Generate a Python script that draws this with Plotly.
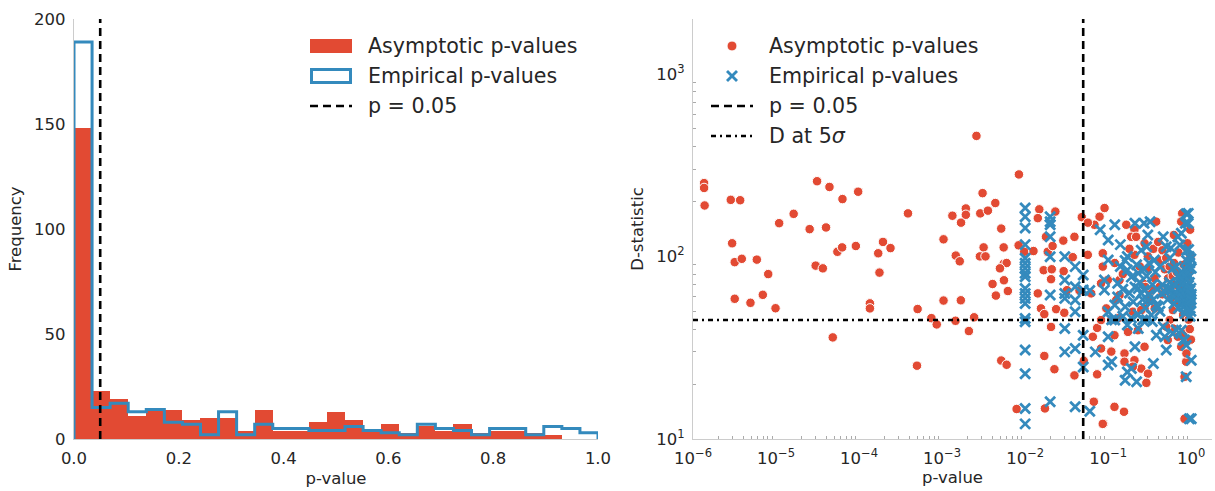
import numpy as np
import plotly.graph_objects as go

RED = "#E24A33"
BLUE = "#348ABD"
INK = "#262626"
SPINE = "#CCCCCC"
FONT = "DejaVu Sans"

# Histogram counts over 29 equal-width bins spanning [0, 1]
asymptotic_counts = [148, 23, 19, 11, 15, 14, 9, 10, 10, 4, 14, 4, 4, 8, 13,
                     9, 4, 7, 3, 6, 4, 7, 3, 4, 4, 3, 2, 0, 0]
empirical_counts = [189, 15, 17, 13, 14, 8, 7, 2, 13, 2, 7, 5, 5, 4, 4,
                    6, 4, 3, 2, 7, 5, 4, 2, 5, 5, 2, 6, 5, 3]

p_threshold = 0.05
d_at_5sigma = 44.8

# (p-value, D-statistic) pairs, asymptotic p-values
asymptotic_points = [
    (1.36e-6, 252), (1.36e-6, 237), (1.38e-6, 190), (2.85e-6, 204), (3.70e-6, 203),
    (2.96e-6, 118), (3.18e-6, 93), (3.87e-6, 97), (5.87e-6, 96), (8.05e-6, 80),
    (3.18e-6, 58.6), (4.92e-6, 55.7), (6.93e-6, 61.6), (9.86e-6, 52), (1.09e-5, 152),
    (1.63e-5, 171), (2.54e-5, 141), (3.12e-5, 258), (4.00e-5, 144), (4.40e-5, 240),
    (6.31e-5, 206), (3.00e-5, 89), (3.66e-5, 86), (5.48e-5, 106), (6.25e-5, 112),
    (4.82e-5, 36), (9.14e-5, 114), (9.75e-5, 226),
    (3.88e-4, 172), (1.94e-4, 120), (1.70e-4, 104), (2.39e-4, 111), (1.76e-4, 81.5),
    (1.35e-4, 55.3), (1.35e-4, 51.9), (5.07e-4, 51.5), (4.98e-4, 25.2), (2.59e-3, 457),
    (1.04e-3, 124), (1.33e-3, 167), (1.69e-3, 153), (1.93e-3, 183), (1.93e-3, 169),
    (1.46e-3, 101), (1.63e-3, 94), (1.04e-3, 57.3), (1.68e-3, 57.5), (7.43e-4, 45.9),
    (8.61e-4, 42.4), (1.45e-3, 44.4), (2.10e-3, 39), (2.43e-3, 46.4), (3.07e-3, 222),
    (2.88e-3, 172), (3.56e-3, 178), (4.37e-3, 196), (5.15e-3, 142), (3.16e-3, 112),
    (2.85e-3, 100), (3.33e-3, 100), (5.51e-3, 112), (5.51e-3, 91), (5.98e-3, 92),
    (4.97e-3, 86), (5.55e-3, 74), (4.05e-3, 70.6), (4.44e-3, 61), (6.19e-3, 64.6),
    (8.41e-3, 281), (8.34e-3, 115), (5.15e-3, 26.9), (5.98e-3, 25.5), (7.89e-3, 14.6),
    (0.0148, 181), (0.0142, 162), (0.0231, 176), (9.75e-3, 106), (0.0126, 107),
    (0.0187, 106), (0.0178, 128), (0.0214, 114), (0.0288, 122), (0.0392, 128),
    (0.0481, 164), (0.0167, 84), (0.0209, 85), (0.0205, 75), (0.0291, 83),
    (0.0374, 99), (0.0142, 62.7), (0.0319, 65.3), (0.0451, 65), (0.0568, 102),
    (0.0155, 51.9), (0.017, 48.3), (0.0236, 51.4), (0.0296, 49.1), (0.0205, 41.1),
    (0.017, 28.5), (0.0225, 24.1), (0.0392, 22.3), (0.0508, 26.8), (0.0736, 22.6),
    (0.0173, 14.7), (0.0671, 16), (0.0879, 12.1),
    (0.0904, 184), (0.0787, 165), (0.0684, 149), (0.0569, 153), (0.0736, 40.6),
    (0.0653, 36.3), (0.0624, 62.7),
    (0.165, 149), (0.207, 140), (0.189, 128), (0.217, 128), (0.378, 155), (0.618, 131),
    (0.778, 172), (0.757, 155), (0.830, 113), (0.869, 86.1), (0.274, 118), (0.262, 71.2),
    (0.361, 75.9), (0.207, 102), (0.099, 74.3), (0.086, 104), (0.086, 87.9), (0.082, 71.2),
    (0.137, 61.4), (0.315, 57.7), (0.274, 51.9), (0.601, 50.8), (0.198, 49.8), (0.109, 44.8),
    (0.082, 44.8), (0.228, 39.4), (0.119, 37), (0.522, 34.8), (0.690, 36.3), (0.757, 32),
    (0.082, 31.3), (0.109, 30.1), (0.157, 29.4), (0.274, 32), (0.207, 27), (0.250, 24.3),
    (0.301, 22.8), (0.288, 20.3), (0.198, 24.9), (0.869, 26.5), (0.830, 21.9), (0.119, 15),
    (0.155, 14.1), (0.086, 12.1), (0.830, 12.9),
    (0.137, 74.2), (0.301, 86), (0.417, 68.2), (0.526, 75.8), (0.694, 55.3), (0.798, 47.7),
    (0.125, 57.7), (0.25, 50.8), (0.363, 51.9), (0.55, 44.8), (0.604, 40.3), (0.50, 41.2),
    (0.80, 37.8), (0.875, 29.4), (0.095, 51.9), (0.131, 45.8), (0.173, 38.6), (0.157, 26.5),
    (0.42, 95), (0.45, 62), (0.48, 85), (0.52, 66), (0.55, 88), (0.57, 59), (0.6, 78),
    (0.62, 92), (0.64, 63), (0.65, 70), (0.67, 82), (0.7, 105), (0.72, 60), (0.74, 72),
    (0.78, 66), (0.81, 90), (0.84, 58), (0.86, 75), (0.88, 58), (0.9, 118), (0.91, 68),
    (0.93, 45), (0.94, 82), (0.95, 64), (0.96, 40), (0.97, 140), (0.98, 100), (0.99, 35),
    (0.99, 55), (0.3, 100), (0.33, 65), (0.35, 110), (0.4, 120), (0.45, 108), (0.5, 98),
    (0.12, 92), (0.15, 80), (0.18, 110), (0.24, 88), (0.28, 68),
]

# (p-value, D-statistic) pairs, empirical p-values
empirical_points = [
    (0.01, 184), (0.01, 165), (0.01, 143), (0.01, 116), (0.01, 97.7), (0.01, 91.7),
    (0.01, 86), (0.01, 80.8), (0.01, 77.4), (0.01, 66.8), (0.01, 62.7), (0.01, 58.9),
    (0.01, 55.2), (0.01, 45.7), (0.01, 43.8), (0.01, 30.7), (0.01, 22.8), (0.01, 14.7),
    (0.01, 12.1),
    (0.02, 165), (0.02, 155), (0.02, 149), (0.02, 128), (0.02, 99.5), (0.02, 61.4), (0.02, 16),
    (0.03, 99.7), (0.03, 74.2), (0.03, 62.7), (0.03, 58.9), (0.03, 40.3), (0.03, 30),
    (0.04, 87.9), (0.04, 68.2), (0.04, 57.7), (0.04, 49.8), (0.04, 31.3), (0.04, 15),
    (0.05, 79), (0.05, 65.4), (0.05, 37), (0.05, 24.8),
    (0.06, 14.2), (0.06, 65), (0.07, 30), (0.08, 140), (0.09, 74.2),
    (0.87, 171), (0.85, 152), (0.93, 109), (1.0, 86.1), (0.76, 134), (0.46, 128),
    (0.50, 113), (0.32, 155), (0.30, 131), (0.21, 152), (0.12, 149), (0.10, 123),
    (0.14, 116), (0.17, 99.8), (0.25, 108), (0.36, 95.5), (0.55, 97.7), (0.57, 111),
    (0.38, 37), (0.48, 36.3), (0.60, 37.8), (0.76, 39.4), (0.83, 34.8), (0.87, 32.6),
    (0.50, 30.7), (0.21, 32), (0.35, 25.9), (0.11, 26.5), (0.17, 23.3), (0.16, 21),
    (0.87, 21.9), (1.0, 27), (0.95, 12.9), (0.12, 54.1), (0.16, 53), (0.20, 56.5),
    (0.30, 57.7), (0.26, 44.8), (0.33, 47.7), (0.27, 65.4), (0.23, 80.8), (0.17, 84.3),
    (0.13, 71.2), (0.09, 65.4), (0.10, 49.8), (0.12, 44.8), (0.17, 42.1),
    (0.10, 95.6), (0.10, 36.3), (0.10, 25.4), (0.19, 24.3), (0.22, 20.6), (0.23, 40.3),
    (0.23, 66.8), (0.25, 62.7), (0.27, 152), (0.29, 113), (0.40, 53), (0.44, 62.7),
    (0.46, 41.2), (0.53, 66.8), (0.60, 86), (0.63, 60.1), (0.66, 39.5), (0.69, 128),
    (0.73, 115.5), (0.73, 75.8), (0.76, 65.4), (0.80, 80.8), (0.80, 34.8), (0.84, 48.7),
    (0.88, 108), (0.92, 172), (0.92, 152), (0.96, 86), (1.0, 12.9),
    (0.45, 70), (0.48, 64), (0.52, 58), (0.55, 72), (0.58, 66), (0.6, 61), (0.62, 55),
    (0.64, 69), (0.66, 63), (0.68, 58), (0.7, 52), (0.71, 67), (0.73, 61), (0.75, 56),
    (0.77, 71), (0.78, 64), (0.8, 59), (0.81, 53), (0.83, 68), (0.84, 62), (0.85, 57),
    (0.86, 51), (0.87, 74), (0.88, 66), (0.89, 60), (0.9, 55), (0.91, 69), (0.92, 63),
    (0.93, 58), (0.94, 52), (0.95, 72), (0.96, 65), (0.97, 60), (0.98, 56), (0.99, 67),
    (1.0, 62), (1.0, 58), (0.99, 50), (0.97, 47), (0.93, 77), (0.9, 80), (0.86, 84),
    (0.82, 78), (0.76, 82), (0.7, 78), (0.66, 88), (0.96, 92), (0.99, 97), (0.94, 100),
    (0.88, 95),
    (0.14, 88), (0.16, 95), (0.19, 77), (0.22, 90), (0.24, 72), (0.27, 85), (0.29, 78),
    (0.31, 92), (0.34, 70), (0.37, 82), (0.39, 66), (0.42, 88), (0.13, 60), (0.15, 66),
    (0.18, 63), (0.21, 68), (0.26, 58), (0.28, 52), (0.31, 62), (0.35, 58), (0.38, 54),
    (0.42, 50), (0.11, 45), (0.15, 47), (0.19, 46), (0.23, 48), (0.29, 45), (0.34, 44),
]

hist_xticks = [0.0, 0.2, 0.4, 0.6, 0.8, 1.0]
hist_yticks = [0, 50, 100, 150, 200]
log_xticks = [1e-6, 1e-5, 1e-4, 1e-3, 1e-2, 1e-1, 1]
log_yticks = [10, 100, 1000]

W, H = 1215, 491
M_T, M_B = 19, 52
PLOT_H = H - M_T - M_B


def px_x(px):
    return px / W


def px_y(py):
    return (H - M_B - py) / PLOT_H


def sup_label(v):
    e = int(round(np.log10(v)))
    s = str(abs(e))
    return "10<sup>" + ("\u2212" if e < 0 else "") + s + "</sup>"


fig = go.Figure()

# ---- left panel: histogram ----
edges = np.linspace(0.0, 1.0, len(asymptotic_counts) + 1)
centers = 0.5 * (edges[:-1] + edges[1:])
bin_w = edges[1] - edges[0]

fig.add_trace(go.Bar(
    x=centers, y=asymptotic_counts, width=bin_w,
    marker=dict(color=RED, line=dict(width=0)),
    xaxis="x", yaxis="y", showlegend=False, name="Asymptotic p-values",
))

step_x = [0.0] + list(edges[:-1]) + [1.0, 1.0]
step_y = [0] + list(empirical_counts) + [empirical_counts[-1], 0]
fig.add_trace(go.Scatter(
    x=step_x, y=step_y, mode="lines",
    line=dict(color=BLUE, width=3, shape="hv"),
    xaxis="x", yaxis="y", showlegend=False, name="Empirical p-values",
))

# ---- right panel: D-statistic vs p-value ----
a_p, a_d = zip(*asymptotic_points)
e_p, e_d = zip(*empirical_points)

fig.add_trace(go.Scatter(
    x=a_p, y=a_d, mode="markers",
    marker=dict(symbol="circle", size=9.5, color=RED, line=dict(color="white", width=1)),
    xaxis="x2", yaxis="y2", showlegend=False, name="Asymptotic p-values",
))
fig.add_trace(go.Scatter(
    x=e_p, y=e_d, mode="markers",
    marker=dict(symbol="x-thin", size=10, color=BLUE, line=dict(color=BLUE, width=2.8)),
    xaxis="x2", yaxis="y2", showlegend=False, name="Empirical p-values",
))

DASH = "8px,5px"
DASHDOT = "5px,4px,2px,4px"

shapes = [
    dict(type="line", xref="x", yref="y domain", x0=p_threshold, x1=p_threshold, y0=0, y1=1,
         line=dict(color="black", width=2.6, dash=DASH)),
    dict(type="line", xref="x2", yref="y2 domain", x0=p_threshold, x1=p_threshold, y0=0, y1=1,
         line=dict(color="black", width=2.6, dash=DASH)),
    dict(type="line", xref="x2 domain", yref="y2", x0=0, x1=1, y0=d_at_5sigma, y1=d_at_5sigma,
         line=dict(color="black", width=2.6, dash=DASHDOT)),
]

# ---- legends ----
text_font = dict(family=FONT, size=20.6, color=INK)
annotations = []


def legend_text(px, py, text):
    annotations.append(dict(
        xref="paper", yref="paper", x=px_x(px), y=px_y(py), text=text,
        showarrow=False, xanchor="left", yanchor="middle", font=text_font,
    ))


# left legend
shapes += [
    dict(type="rect", xref="paper", yref="paper", x0=px_x(310), x1=px_x(352),
         y0=px_y(53), y1=px_y(39), fillcolor=RED, line=dict(width=0)),
    dict(type="rect", xref="paper", yref="paper", x0=px_x(311.5), x1=px_x(350.5),
         y0=px_y(82.5), y1=px_y(69.5), fillcolor="white", line=dict(color=BLUE, width=3)),
    dict(type="line", xref="paper", yref="paper", x0=px_x(310), x1=px_x(352),
         y0=px_y(106), y1=px_y(106), line=dict(color="black", width=2.6, dash=DASH)),
]
legend_text(366, 46, "Asymptotic p-values")
legend_text(366, 76, "Empirical p-values")
legend_text(366, 106, "p = 0.05")

# right legend
cx, r = 732, 5
xa = 5
shapes += [
    dict(type="circle", xref="paper", yref="paper", x0=px_x(cx - r), x1=px_x(cx + r),
         y0=px_y(46 + r), y1=px_y(46 - r), fillcolor=RED, line=dict(color="white", width=1)),
    dict(type="line", xref="paper", yref="paper", x0=px_x(cx - xa), x1=px_x(cx + xa),
         y0=px_y(76 - xa), y1=px_y(76 + xa), line=dict(color=BLUE, width=2.8)),
    dict(type="line", xref="paper", yref="paper", x0=px_x(cx - xa), x1=px_x(cx + xa),
         y0=px_y(76 + xa), y1=px_y(76 - xa), line=dict(color=BLUE, width=2.8)),
    dict(type="line", xref="paper", yref="paper", x0=px_x(711), x1=px_x(753),
         y0=px_y(106), y1=px_y(106), line=dict(color="black", width=2.6, dash=DASH)),
    dict(type="line", xref="paper", yref="paper", x0=px_x(711), x1=px_x(753),
         y0=px_y(136), y1=px_y(136), line=dict(color="black", width=2.6, dash=DASHDOT)),
]
legend_text(767, 46, "Asymptotic p-values")
legend_text(767, 76, "Empirical p-values")
legend_text(767, 106, "p = 0.05")
legend_text(767, 136, "D at 5<i>\u03c3</i>")

tick_font = dict(family=FONT, size=16.5, color=INK)
title_font = dict(family=FONT, size=16.5, color=INK)

axis_base = dict(
    showgrid=False, zeroline=False, showline=True, linecolor=SPINE, linewidth=1.3,
    ticks="", tickfont=tick_font, automargin=False, ticklabelstandoff=4,
)

log_x_minor = [k * 10.0 ** e for e in range(-6, 1) for k in range(2, 10)]
log_y_minor = [k * 10.0 ** e for e in range(1, 4) for k in range(2, 10)]

fig.update_layout(
    width=W, height=H,
    margin=dict(l=0, r=0, t=M_T, b=M_B),
    paper_bgcolor="white", plot_bgcolor="white",
    bargap=0, showlegend=False,
    font=dict(family=FONT, color=INK),
    xaxis=dict(axis_base, domain=[px_x(74), px_x(598)], range=[0, 1], anchor="y",
               tickmode="array", tickvals=hist_xticks,
               ticktext=[f"{v:.1f}" for v in hist_xticks],
               title=dict(text="p-value", font=title_font, standoff=5)),
    yaxis=dict(axis_base, domain=[0, 1], range=[0, 200], anchor="x",
               tickmode="array", tickvals=hist_yticks,
               title=dict(text="Frequency", font=title_font, standoff=8)),
    xaxis2=dict(axis_base, type="log", domain=[px_x(693), px_x(1212)], range=[-6, 0.25],
                anchor="y2", tickmode="array", tickvals=log_xticks,
                ticktext=[sup_label(v) for v in log_xticks],
                minor=dict(ticks="inside", ticklen=3, tickcolor="#AAAAAA", tickwidth=1,
                           tickmode="array", tickvals=log_x_minor, showgrid=False),
                title=dict(text="p-value", font=title_font, standoff=4)),
    yaxis2=dict(axis_base, type="log", domain=[0, 1], range=[1, 3.3], anchor="x2",
                tickmode="array", tickvals=log_yticks,
                ticktext=[sup_label(v) for v in log_yticks],
                minor=dict(ticks="inside", ticklen=3, tickcolor="#AAAAAA", tickwidth=1,
                           tickmode="array", tickvals=log_y_minor, showgrid=False),
                title=dict(text="D-statistic", font=title_font, standoff=8)),
    shapes=shapes,
    annotations=annotations,
)

fig.write_html("out.html")
